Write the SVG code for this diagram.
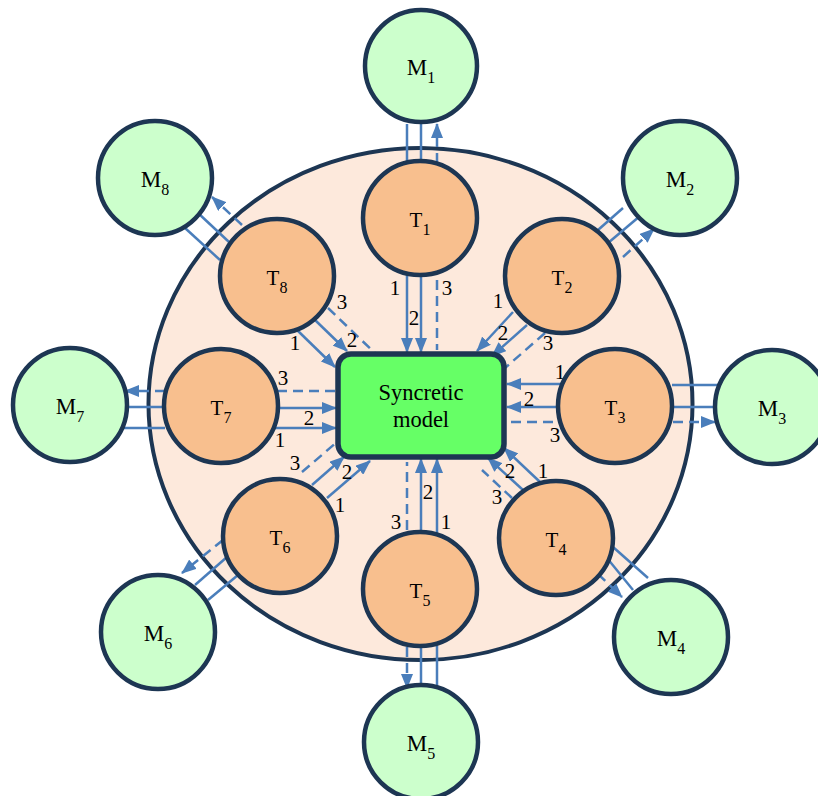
<svg xmlns="http://www.w3.org/2000/svg" width="818" height="796" viewBox="0 0 818 796" font-family="'Liberation Serif', 'DejaVu Serif', 'Times New Roman', Times, serif">
  <style>
    .frame { fill: #fde9dc; stroke: #1d3653; stroke-width: 4; }
    .t circle { fill: #f8bf8e; stroke: #1d3653; stroke-width: 4.5; }
    .m circle { fill: #ccffcc; stroke: #1d3653; stroke-width: 4.5; }
    .core rect { fill: #66ff66; stroke: #1d3653; stroke-width: 5.5; }
    text { font-family: "Liberation Serif", "DejaVu Serif", "Times New Roman", Times, serif; fill: #000; text-anchor: middle; }
    .lbl { font-size: 21px; }
    .mlbl { font-size: 23px; }
    .sub { font-size: 16px; }
    .core text { font-size: 22.5px; }
    .num { font-size: 21px; }
    .ln { stroke: #4a7ebb; stroke-width: 2.5; fill: none; }
    .dash { stroke-dasharray: 10 6; }
    .arr { marker-end: url(#ah); }
  </style>
  <defs>
    <marker id="ah" markerUnits="userSpaceOnUse" viewBox="0 0 15 12" markerWidth="15" markerHeight="12" refX="14" refY="6" orient="auto">
      <path d="M0,0 L15,6 L0,12 z" fill="#4a7ebb"/>
    </marker>
  </defs>

  <!-- shared environment -->
  <g id="boundary">
    <ellipse class="frame" cx="420.5" cy="404" rx="272" ry="256"/>
  </g>

  <!-- flows between task nodes, the central model and the outer models -->
  <g id="connectors">
    <!-- T1 -->
    <line class="ln arr" x1="407" y1="275" x2="407" y2="352"/>
    <line class="ln arr" x1="421" y1="275" x2="421" y2="352"/>
    <line class="ln dash" x1="437" y1="280" x2="437" y2="350"/>
    <line class="ln" x1="407" y1="163" x2="407" y2="124"/>
    <line class="ln" x1="421" y1="163" x2="421" y2="124"/>
    <line class="ln dash arr" x1="437" y1="163" x2="437" y2="124"/>
    <!-- T2 -->
    <line class="ln arr" x1="513" y1="312" x2="477" y2="351"/>
    <line class="ln arr" x1="527" y1="325" x2="492" y2="356"/>
    <line class="ln dash" x1="545" y1="333" x2="505" y2="368"/>
    <line class="ln" x1="598" y1="230" x2="623" y2="208"/>
    <line class="ln" x1="608" y1="243" x2="640" y2="216"/>
    <line class="ln dash arr" x1="623" y1="257" x2="654" y2="229"/>
    <!-- T3 -->
    <line class="ln arr" x1="563" y1="384" x2="507" y2="384"/>
    <line class="ln arr" x1="559" y1="407" x2="507" y2="407"/>
    <line class="ln dash" x1="553" y1="422" x2="506" y2="422"/>
    <line class="ln" x1="672" y1="385" x2="720" y2="385"/>
    <line class="ln" x1="672" y1="407" x2="716" y2="407"/>
    <line class="ln dash arr" x1="673" y1="422" x2="715" y2="422"/>
    <!-- T4 -->
    <line class="ln arr" x1="540" y1="482" x2="504" y2="448"/>
    <line class="ln arr" x1="523" y1="490" x2="488" y2="458"/>
    <line class="ln dash" x1="512" y1="498" x2="482" y2="470"/>
    <line class="ln" x1="613" y1="547" x2="648" y2="578"/>
    <line class="ln" x1="607" y1="558" x2="633" y2="590"/>
    <line class="ln dash arr" x1="598" y1="574" x2="622" y2="597"/>
    <!-- T5 -->
    <line class="ln dash" x1="407" y1="530" x2="407" y2="462"/>
    <line class="ln arr" x1="421" y1="531" x2="421" y2="459"/>
    <line class="ln arr" x1="437" y1="533" x2="437" y2="459"/>
    <line class="ln dash arr" x1="407" y1="647" x2="407" y2="688"/>
    <line class="ln" x1="421" y1="647" x2="421" y2="686"/>
    <line class="ln" x1="437" y1="646" x2="437" y2="688"/>
    <!-- T6 -->
    <line class="ln arr" x1="327" y1="498" x2="370" y2="461"/>
    <line class="ln arr" x1="312" y1="485" x2="344" y2="457"/>
    <line class="ln dash" x1="302" y1="472" x2="337" y2="442"/>
    <line class="ln dash arr" x1="223" y1="540" x2="182" y2="573"/>
    <line class="ln" x1="227" y1="557" x2="195" y2="585"/>
    <line class="ln" x1="238" y1="575" x2="208" y2="600"/>
    <!-- T7 -->
    <line class="ln dash" x1="277" y1="391" x2="338" y2="391"/>
    <line class="ln arr" x1="280" y1="408" x2="336" y2="408"/>
    <line class="ln arr" x1="275" y1="428" x2="336" y2="428"/>
    <line class="ln dash arr" x1="165" y1="391" x2="125" y2="391"/>
    <line class="ln" x1="163" y1="407" x2="125" y2="407"/>
    <line class="ln" x1="165" y1="428" x2="122" y2="428"/>
    <!-- T8 -->
    <line class="ln arr" x1="297" y1="330" x2="335" y2="367"/>
    <line class="ln arr" x1="315" y1="320" x2="347" y2="351"/>
    <line class="ln dash" x1="328" y1="308" x2="377" y2="355"/>
    <line class="ln dash arr" x1="242" y1="225" x2="212" y2="197"/>
    <line class="ln" x1="229" y1="242" x2="198" y2="213"/>
    <line class="ln" x1="220" y1="260" x2="185" y2="228"/>
  </g>

  <!-- flow numbers -->
  <g id="connector-labels">
    <text class="num" x="395" y="295">1</text>
    <text class="num" x="414" y="325">2</text>
    <text class="num" x="447" y="295">3</text>

    <text class="num" x="498" y="308">1</text>
    <text class="num" x="503" y="340">2</text>
    <text class="num" x="548" y="350">3</text>

    <text class="num" x="560" y="379">1</text>
    <text class="num" x="529" y="406">2</text>
    <text class="num" x="555" y="442">3</text>

    <text class="num" x="543" y="478">1</text>
    <text class="num" x="510" y="478">2</text>
    <text class="num" x="497" y="504">3</text>

    <text class="num" x="396" y="529">3</text>
    <text class="num" x="428" y="499">2</text>
    <text class="num" x="446" y="529">1</text>

    <text class="num" x="340" y="512">1</text>
    <text class="num" x="347" y="479">2</text>
    <text class="num" x="295" y="470">3</text>

    <text class="num" x="283" y="385">3</text>
    <text class="num" x="309" y="425">2</text>
    <text class="num" x="280" y="447">1</text>

    <text class="num" x="295" y="350">1</text>
    <text class="num" x="352" y="347">2</text>
    <text class="num" x="342" y="309">3</text>
  </g>

  <!-- central model -->
  <g id="syncretic-model" class="core">
    <rect x="338" y="354" width="166" height="103" rx="13" ry="13"/>
    <text x="421" y="400">Syncretic</text>
    <text x="421" y="427">model</text>
  </g>

  <!-- task nodes -->
  <g id="T1" class="t"><circle cx="420" cy="218" r="57"/><text class="lbl" x="420" y="227">T<tspan class="sub" dy="8">1</tspan></text></g>
  <g id="T2" class="t"><circle cx="562" cy="276" r="57"/><text class="lbl" x="562" y="285">T<tspan class="sub" dy="8">2</tspan></text></g>
  <g id="T3" class="t"><circle cx="615" cy="406" r="57"/><text class="lbl" x="615" y="415">T<tspan class="sub" dy="8">3</tspan></text></g>
  <g id="T4" class="t"><circle cx="556" cy="538" r="57"/><text class="lbl" x="556" y="547">T<tspan class="sub" dy="8">4</tspan></text></g>
  <g id="T5" class="t"><circle cx="420" cy="589" r="57"/><text class="lbl" x="420" y="598">T<tspan class="sub" dy="8">5</tspan></text></g>
  <g id="T6" class="t"><circle cx="280" cy="536" r="57"/><text class="lbl" x="280" y="545">T<tspan class="sub" dy="8">6</tspan></text></g>
  <g id="T7" class="t"><circle cx="221" cy="406" r="57"/><text class="lbl" x="221" y="415">T<tspan class="sub" dy="8">7</tspan></text></g>
  <g id="T8" class="t"><circle cx="277" cy="276" r="57"/><text class="lbl" x="277" y="285">T<tspan class="sub" dy="8">8</tspan></text></g>

  <!-- outer models -->
  <g id="M1" class="m"><circle cx="421" cy="66" r="56"/><text class="mlbl" x="421" y="75">M<tspan class="sub" dy="8">1</tspan></text></g>
  <g id="M2" class="m"><circle cx="680" cy="178" r="57"/><text class="mlbl" x="680" y="187">M<tspan class="sub" dy="8">2</tspan></text></g>
  <g id="M3" class="m"><circle cx="772" cy="407" r="57"/><text class="mlbl" x="772" y="416">M<tspan class="sub" dy="8">3</tspan></text></g>
  <g id="M4" class="m"><circle cx="671" cy="637" r="57"/><text class="mlbl" x="671" y="646">M<tspan class="sub" dy="8">4</tspan></text></g>
  <g id="M5" class="m"><circle cx="421" cy="742" r="57"/><text class="mlbl" x="421" y="751">M<tspan class="sub" dy="8">5</tspan></text></g>
  <g id="M6" class="m"><circle cx="158" cy="632" r="57"/><text class="mlbl" x="158" y="641">M<tspan class="sub" dy="8">6</tspan></text></g>
  <g id="M7" class="m"><circle cx="70" cy="405" r="57"/><text class="mlbl" x="70" y="414">M<tspan class="sub" dy="8">7</tspan></text></g>
  <g id="M8" class="m"><circle cx="155" cy="178" r="57"/><text class="mlbl" x="155" y="187">M<tspan class="sub" dy="8">8</tspan></text></g>
</svg>
